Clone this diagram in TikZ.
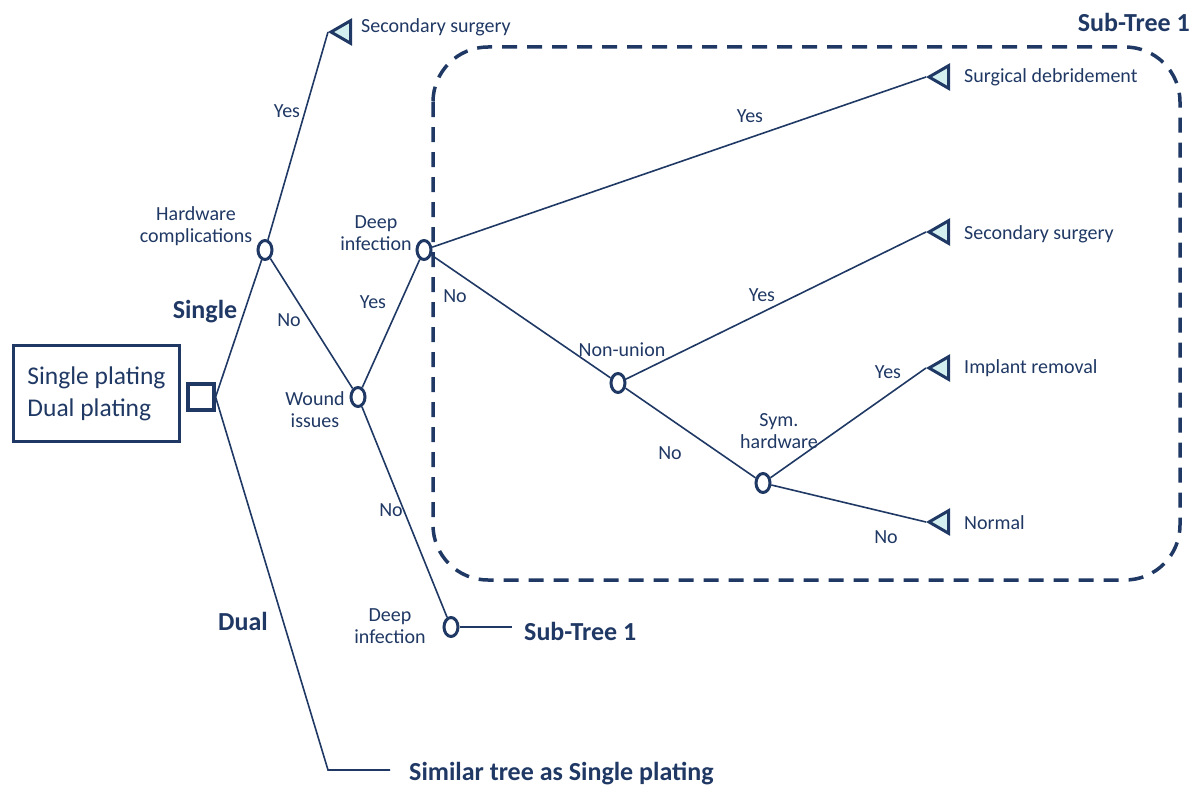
\documentclass[tikz,border=0pt]{standalone}
\usepackage{fontspec}
\setmainfont{Carlito}
\usetikzlibrary{shapes.geometric}
\definecolor{navy}{HTML}{1F3864}
\definecolor{tfill}{HTML}{D3EFEF}
\begin{document}
\begin{tikzpicture}[x=1pt,y=-1pt,
  every node/.style={text=navy},
  lbl/.style={font=\fontsize{20}{22}\selectfont, align=center, inner sep=0pt},
  blbl/.style={font=\fontsize{26}{28}\selectfont\bfseries, inner sep=0pt},
  chance/.style={draw=navy, line width=3pt, ellipse, minimum width=14pt, minimum height=19pt, inner sep=0pt},
  term/.style={draw=navy, fill=tfill, line width=3pt, regular polygon, regular polygon sides=3, shape border rotate=90, minimum size=26pt, inner sep=0pt},
  edge/.style={draw=navy, line width=1.6pt},
  decision/.style={draw=navy, line width=3.2pt, minimum width=26pt, minimum height=26pt, inner sep=0pt},
]
\useasboundingbox (0,0) rectangle (1199,792);
% sub-tree frame
\draw[navy, line width=3.5pt, dash pattern=on 15pt off 10pt, rounded corners=55pt] (433,47) rectangle (1180,580);

% options box
\node[draw=navy, line width=2.5pt, minimum width=166pt, minimum height=96pt, align=left, inner sep=0pt,
  font=\fontsize{25.5}{32}\selectfont] (opts) at (96.5,393.5) {Single plating\\Dual plating};
\node[decision] (root) at (201,397) {};

% chance nodes
\node[chance] (hw) at (265,250) {};
\node[chance] (wi) at (358,397) {};
\node[chance] (di) at (424,250) {};
\node[chance] (di2) at (451,627) {};
\node[chance] (nu) at (618,383) {};
\node[chance] (sh) at (763,483) {};

% terminals
\node[term] (t0) at (344,32) {};
\node[term] (t1) at (942,77) {};
\node[term] (t2) at (942,232) {};
\node[term] (t3) at (942,368) {};
\node[term] (t4) at (942,522) {};

\coordinate (dualbend) at (328,770);
\coordinate (dualend) at (390,770);
\coordinate (subend) at (512,627);

% edges
\draw[edge] (root.east) -- (hw);
\draw[edge] (hw) -- (t0.corner 1);
\draw[edge] (hw) -- (wi);
\draw[edge] (wi) -- (di);
\draw[edge] (wi) -- (di2);
\draw[edge] (di2) -- (subend);
\draw[edge] (di) -- (t1.corner 1);
\draw[edge] (di) -- (nu);
\draw[edge] (nu) -- (t2.corner 1);
\draw[edge] (nu) -- (sh);
\draw[edge] (sh) -- (t3.corner 1);
\draw[edge] (sh) -- (t4.corner 1);
\draw[edge] (root.east) -- (dualbend) -- (dualend);

% terminal labels
\node[lbl, anchor=west] (l0) at (361,27) {Secondary surgery};
\node[lbl, anchor=west] (l1) at (964,77) {Surgical debridement};
\node[lbl, anchor=west] (l2) at (964,234) {Secondary surgery};
\node[lbl, anchor=west] (l3) at (964,368) {Implant removal};
\node[lbl, anchor=west] (l4) at (964,523) {Normal};

% node labels
\node[lbl] (lhw) at (196,226) {Hardware\\complications};
\node[lbl] (ldi) at (376,233) {Deep\\infection};
\node[lbl] (lwi) at (315,410) {Wound\\issues};
\node[lbl] (ldi2) at (390,626) {Deep\\infection};
\node[lbl] (lnu) at (622,350) {Non-union};
\node[lbl] (lsh) at (779,431) {Sym.\\hardware};

% branch labels
\node[lbl] (y0) at (287,111) {Yes};
\node[lbl] (n0) at (289,320) {No};
\node[lbl] (y1) at (373,302) {Yes};
\node[lbl] (n1) at (391,510) {No};
\node[lbl] (n2) at (455,296) {No};
\node[lbl] (y2) at (750,116) {Yes};
\node[lbl] (y3) at (762,295) {Yes};
\node[lbl] (n3) at (670,453) {No};
\node[lbl] (y4) at (888,372) {Yes};
\node[lbl] (n4) at (886,537) {No};

% bold labels
\node[blbl] (single) at (205,312) {Single};
\node[blbl] (dual) at (243,621) {Dual};
\node[blbl, anchor=west] (st) at (524,631) {Sub-Tree 1};
\node[blbl, anchor=east] (st2) at (1190,22) {Sub-Tree 1};
\node[blbl, anchor=west] (sim) at (409,774) {Similar tree as Single plating};
\end{tikzpicture}
\end{document}
